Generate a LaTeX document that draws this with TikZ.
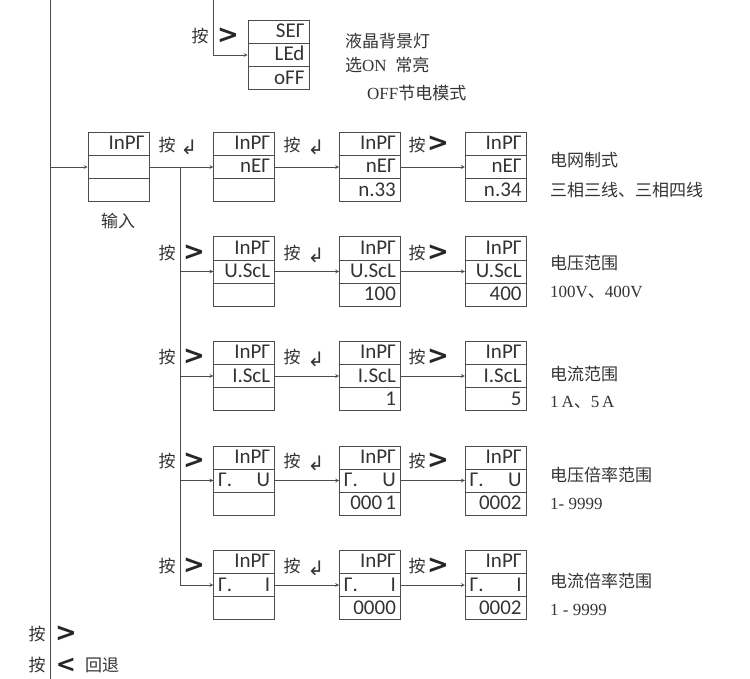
\documentclass[tikz,border=0pt]{standalone}
\usepackage{fontspec}
\setmainfont{Liberation Serif}
\newfontfamily\cjk{Noto Sans CJK SC}
\newfontfamily\segfont{Carlito}
\newfontfamily\signfont{DejaVu Sans}
\usepackage{tikz}
\usetikzlibrary{shapes,arrows,positioning,calc}

\newcommand\segstrut{\vrule height15pt depth3pt width0pt}

\begin{document}
\begin{tikzpicture}[
    x=1pt, y=-1pt,
    disp/.style={rectangle split, rectangle split parts=3, rectangle split ignore empty parts=false, draw=black!70, line width=0.7pt, text width=52pt, align=right, inner xsep=4.5pt, inner ysep=2.2pt, execute at begin node=\segstrut, font=\segfont\fontsize{21}{21}\selectfont, text=black!80},
    arrow/.style={->, >=stealth, draw=black!70, line width=0.7pt},
    wire/.style={draw=black!70, line width=0.7pt},
    zh/.style={font=\cjk\fontsize{17}{17}\selectfont, text=black!80, inner sep=0pt},
    desc/.style={font=\fontsize{17}{17}\selectfont, text=black!80, inner sep=0pt, anchor=west},
    sign/.style={font=\signfont\bfseries\fontsize{26}{26}\selectfont, text=black!85, inner sep=0pt},
    enter/.style={font=\signfont\fontsize{20}{20}\selectfont, text=black!80, inner sep=0pt}
]
    \useasboundingbox (0,0) rectangle (750,679);

    % main line and backlight menu
    \coordinate (mtop) at (50,0);
    \coordinate (mbot) at (50,679);
    \coordinate (ltop) at (213,0);
    \draw[wire] (mtop) -- (mbot);

    \node[disp] (led) at (278.5,55) {SEΓ \nodepart{two} LEd \nodepart{three} oFF};
    \draw[arrow] (ltop) |- (led.two west);
    \node[zh] (k0) at (200,36) {按};
    \node[sign] (s0) at (228,36) {>};
    \node[zh, anchor=west] (d0a) at (345,41) {液晶背景灯};
    \node[desc] (d0b) at (345,65) {{\cjk 选}ON\ \ {\cjk 常亮}};
    \node[desc] (d0c) at (367,93) {OFF{\cjk 节电模式}};

    % input: wiring mode
    \node[disp] (in1) at (118.5,167) {InPΓ \nodepart{two} \nodepart{three} };
    \node[disp, right=64pt of in1] (in2) {InPΓ \nodepart{two} nEΓ \nodepart{three} };
    \node[disp, right=64pt of in2] (in3) {InPΓ \nodepart{two} nEΓ \nodepart{three} n.33};
    \node[disp, right=64pt of in3] (in4) {InPΓ \nodepart{two} nEΓ \nodepart{three} n.34};
    \node[zh] (inlabel) at (118,221) {输入};

    \draw[arrow] (mtop |- in1.two west) -- (in1.two west);
    \draw[arrow] (in1.two east) -- (in2.two west);
    \draw[arrow] (in2.two east) -- (in3.two west);
    \draw[arrow] (in3.two east) -- (in4.two west);
    \node[zh] (k1a) at (167,145) {按};
    \node[enter] (e1a) at (189,147) {↲};
    \node[zh] (k1b) at (292,145) {按};
    \node[enter] (e1b) at (316,147) {↲};
    \node[zh] (k1c) at (417,145) {按};
    \node[sign] (s1c) at (438,144) {>};
    \node[zh, anchor=west] (d1a) at (550,160) {电网制式};
    \node[zh, anchor=west] (d1b) at (550,190) {三相三线、三相四线};

    % voltage range
    \node[disp, below=34.5pt of in2] (u1) {InPΓ \nodepart{two} U.ScL \nodepart{three} };
    \node[disp, right=64pt of u1] (u2) {InPΓ \nodepart{two} U.ScL \nodepart{three} 100};
    \node[disp, right=64pt of u2] (u3) {InPΓ \nodepart{two} U.ScL \nodepart{three} 400};
    \node[zh] (k2a) at (167,253) {按};
    \node[sign] (s2a) at (194,253) {>};
    \node[zh] (k2b) at (292,253) {按};
    \node[enter] (e2b) at (316,255) {↲};
    \node[zh] (k2c) at (417,253) {按};
    \node[sign] (s2c) at (438,253) {>};
    \node[zh, anchor=west] (d2a) at (550,263) {电压范围};
    \node[desc] (d2b) at (550,292) {100V{\cjk 、}400V};

    % current range
    \node[disp, below=34.5pt of u1] (c1) {InPΓ \nodepart{two} I.ScL \nodepart{three} };
    \node[disp, right=64pt of c1] (c2) {InPΓ \nodepart{two} I.ScL \nodepart{three} 1};
    \node[disp, right=64pt of c2] (c3) {InPΓ \nodepart{two} I.ScL \nodepart{three} 5};
    \node[zh] (k3a) at (167,357) {按};
    \node[sign] (s3a) at (194,357) {>};
    \node[zh] (k3b) at (292,357) {按};
    \node[enter] (e3b) at (316,359) {↲};
    \node[zh] (k3c) at (417,357) {按};
    \node[sign] (s3c) at (438,357) {>};
    \node[zh, anchor=west] (d3a) at (550,374) {电流范围};
    \node[desc] (d3b) at (550,402) {1\,A{\cjk 、}5\,A};

    % voltage ratio
    \node[disp, below=34.5pt of c1] (pu1) {InPΓ \nodepart{two} Γ.\hfill U \nodepart{three} };
    \node[disp, right=64pt of pu1] (pu2) {InPΓ \nodepart{two} Γ.\hfill U \nodepart{three} 000\kern3pt 1};
    \node[disp, right=64pt of pu2] (pu3) {InPΓ \nodepart{two} Γ.\hfill U \nodepart{three} 0002};
    \node[zh] (k4a) at (167,461) {按};
    \node[sign] (s4a) at (194,461) {>};
    \node[zh] (k4b) at (292,461) {按};
    \node[enter] (e4b) at (316,463) {↲};
    \node[zh] (k4c) at (417,461) {按};
    \node[sign] (s4c) at (438,461) {>};
    \node[zh, anchor=west] (d4a) at (550,475) {电压倍率范围};
    \node[desc] (d4b) at (550,504) {1- 9999};

    % current ratio
    \node[disp, below=34.5pt of pu1] (pi1) {InPΓ \nodepart{two} Γ.\hfill I \nodepart{three} };
    \node[disp, right=64pt of pi1] (pi2) {InPΓ \nodepart{two} Γ.\hfill I \nodepart{three} 0000};
    \node[disp, right=64pt of pi2] (pi3) {InPΓ \nodepart{two} Γ.\hfill I \nodepart{three} 0002};
    \node[zh] (k5a) at (167,566) {按};
    \node[sign] (s5a) at (194,566) {>};
    \node[zh] (k5b) at (292,566) {按};
    \node[enter] (e5b) at (316,568) {↲};
    \node[zh] (k5c) at (417,566) {按};
    \node[sign] (s5c) at (438,566) {>};
    \node[zh, anchor=west] (d5a) at (550,581) {电流倍率范围};
    \node[desc] (d5b) at (550,610) {1 - 9999};

    % branch to the sub menus
    \coordinate (br) at ($(in1.two east)+(31,0)$);
    \draw[wire] (br) -- (br |- pi1.two west);
    \draw[arrow] (br |- u1.two west) -- (u1.two west);
    \draw[arrow] (u1.two east) -- (u2.two west);
    \draw[arrow] (u2.two east) -- (u3.two west);
    \draw[arrow] (br |- c1.two west) -- (c1.two west);
    \draw[arrow] (c1.two east) -- (c2.two west);
    \draw[arrow] (c2.two east) -- (c3.two west);
    \draw[arrow] (br |- pu1.two west) -- (pu1.two west);
    \draw[arrow] (pu1.two east) -- (pu2.two west);
    \draw[arrow] (pu2.two east) -- (pu3.two west);
    \draw[arrow] (br |- pi1.two west) -- (pi1.two west);
    \draw[arrow] (pi1.two east) -- (pi2.two west);
    \draw[arrow] (pi2.two east) -- (pi3.two west);

    % keys
    \node[zh] (kn) at (37,634) {按};
    \node[sign] (sn) at (66,634) {>};
    \node[zh] (kb) at (37,665) {按};
    \node[sign, font=\signfont\bfseries\fontsize{24}{24}\selectfont] (sb) at (66,665) {<};
    \node[zh, anchor=west] (back) at (85,665) {回退};
\end{tikzpicture}
\end{document}
